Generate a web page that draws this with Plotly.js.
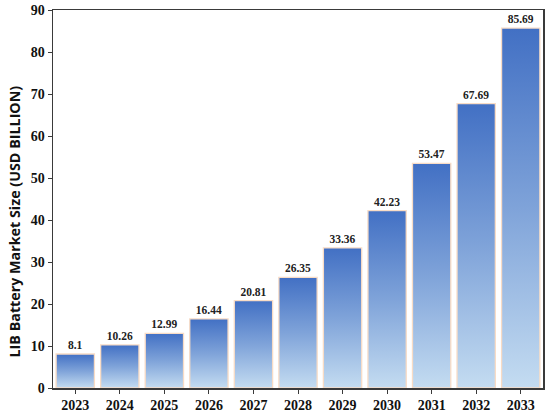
<!DOCTYPE html>
<html>
<head>
<meta charset="utf-8">
<script src="https://cdn.plot.ly/plotly-3.0.1.min.js"></script>
<style>html,body{margin:0;padding:0;background:#fff;}#chart{width:550px;height:415px;}</style>
</head>
<body>
<div id="chart"></div>
<script>
var years = ['2023','2024','2025','2026','2027','2028','2029','2030','2031','2032','2033'];
var marketSize = [8.1, 10.26, 12.99, 16.44, 20.81, 26.35, 33.36, 42.23, 53.47, 67.69, 85.69];
var yTickValues = [0,10,20,30,40,50,60,70,80,90];
var yTitle = 'LIB Battery Market Size (USD BILLION)';

var serif = 'Liberation Serif, serif';
var trace = {
  type: 'bar',
  x: years,
  y: marketSize,
  text: marketSize.map(String),
  textposition: 'outside',
  cliponaxis: false,
  textfont: {family: serif, size: 11.5, color: '#222', weight: 'bold'},
  marker: {color: '#7fa2d8', line: {color: '#f8dcc6', width: 1.3}},
  hoverinfo: 'none'
};
var layout = {
  width: 550, height: 415,
  margin: {l: 53, r: 7, t: 10, b: 27},
  paper_bgcolor: '#fff', plot_bgcolor: '#fff',
  bargap: 0.14,
  showlegend: false,
  xaxis: {
    type: 'category',
    showline: true, linecolor: '#3a3a3a', linewidth: 1.5, mirror: true,
    ticks: 'outside', ticklen: 4, tickcolor: '#3a3a3a',
    tickfont: {family: serif, size: 14, color: '#111', weight: 'bold'},
    showgrid: false, zeroline: false
  },
  yaxis: {
    range: [0, 90],
    tickvals: yTickValues,
    showline: true, linecolor: '#3a3a3a', linewidth: 1.5, mirror: true,
    ticks: 'outside', ticklen: 4, tickcolor: '#3a3a3a',
    tickfont: {family: serif, size: 14, color: '#111', weight: 'bold'},
    showgrid: false, zeroline: false
  },
  annotations: [{
    text: yTitle, textangle: -90, showarrow: false,
    xref: 'paper', yref: 'paper', x: -0.078, y: 0.44,
    xanchor: 'center', yanchor: 'middle',
    font: {family: 'Open Sans, sans-serif', size: 14.3, color: '#111', weight: 'bold'}
  }]
};
Plotly.newPlot('chart', [trace], layout, {displayModeBar: false, staticPlot: true}).then(function(gd){
  var ns = 'http://www.w3.org/2000/svg';
  var svg = gd.querySelector('svg.main-svg');
  var defs = document.createElementNS(ns, 'defs');
  var grad = document.createElementNS(ns, 'linearGradient');
  grad.setAttribute('id', 'barGrad');
  grad.setAttribute('x1', '0'); grad.setAttribute('y1', '0');
  grad.setAttribute('x2', '0'); grad.setAttribute('y2', '1');
  [['0', '#4270c4'], ['0.5', '#7fa3d9'], ['1', '#c4dcf1']].forEach(function(s){
    var st = document.createElementNS(ns, 'stop');
    st.setAttribute('offset', s[0]);
    st.setAttribute('stop-color', s[1]);
    grad.appendChild(st);
  });
  defs.appendChild(grad);
  svg.insertBefore(defs, svg.firstChild);
  gd.querySelectorAll('.bars .point path').forEach(function(p){
    p.style.setProperty('fill', 'url(#barGrad)');
    p.style.setProperty('fill-opacity', '1');
  });
});
</script>
</body>
</html>
